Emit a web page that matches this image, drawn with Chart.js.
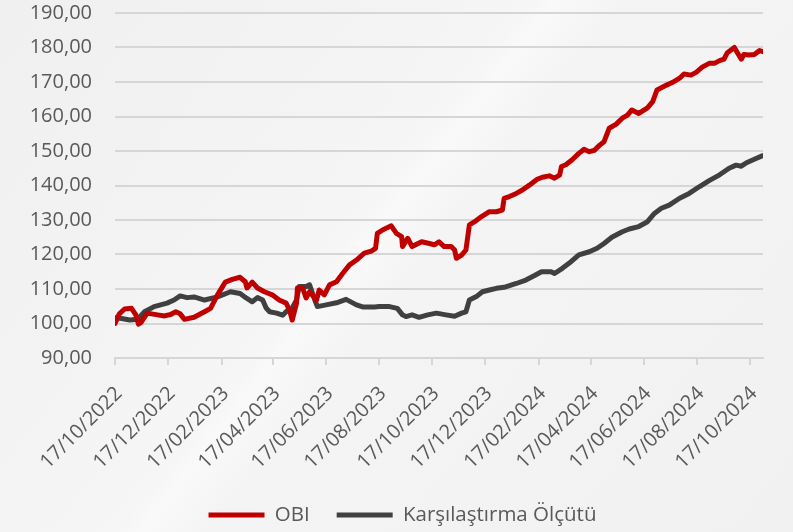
<!DOCTYPE html>
<html>
<head>
<meta charset="utf-8">
<script src="https://cdn.jsdelivr.net/npm/chart.js@4/dist/chart.umd.min.js"></script>
<style>
  html, body { margin: 0; padding: 0; }
  body {
    width: 793px; height: 532px; overflow: hidden; position: relative;
    background: linear-gradient(128deg, #f0f0f1 0%, #f3f3f4 30%, #f6f6f7 44%, #f9f9fa 46%, #f4f4f5 52%, #f1f1f2 100%);
  }
  canvas { display: block; }
</style>
</head>
<body>
<canvas id="c" width="793" height="532"></canvas>
<script>
const tickLabels = ['17/10/2022','17/12/2022','17/02/2023','17/04/2023','17/06/2023','17/08/2023','17/10/2023','17/12/2023','17/02/2024','17/04/2024','17/06/2024','17/08/2024','17/10/2024'];
const axisEnd = '01/11/2024';
const seriesNames = ['OBI', 'Kar\u015f\u0131la\u015ft\u0131rma \u00d6l\u00e7\u00fct\u00fc'];

const obiDates = ['17/10/2022','22/10/2022','28/10/2022','05/11/2022','10/11/2022','13/11/2022','16/11/2022','23/11/2022','05/12/2022','13/12/2022','20/12/2022','26/12/2022','31/12/2022','05/01/2023','16/01/2023','28/01/2023','04/02/2023','12/02/2023','21/02/2023','01/03/2023','10/03/2023','16/03/2023','18/03/2023','24/03/2023','30/03/2023','07/04/2023','16/04/2023','24/04/2023','02/05/2023','06/05/2023','09/05/2023','14/05/2023','15/05/2023','21/05/2023','25/05/2023','29/05/2023','06/06/2023','09/06/2023','15/06/2023','21/06/2023','29/06/2023','06/07/2023','14/07/2023','22/07/2023','31/07/2023','08/08/2023','13/08/2023','15/08/2023','21/08/2023','31/08/2023','06/09/2023','12/09/2023','13/09/2023','19/09/2023','24/09/2023','05/10/2023','14/10/2023','20/10/2023','25/10/2023','31/10/2023','08/11/2023','12/11/2023','14/11/2023','20/11/2023','25/11/2023','29/11/2023','05/12/2023','13/12/2023','22/12/2023','30/12/2023','06/01/2024','08/01/2024','14/01/2024','22/01/2024','29/01/2024','06/02/2024','15/02/2024','21/02/2024','29/02/2024','06/03/2024','12/03/2024','14/03/2024','19/03/2024','26/03/2024','03/04/2024','09/04/2024','15/04/2024','21/04/2024','27/04/2024','02/05/2024','08/05/2024','16/05/2024','23/05/2024','29/05/2024','03/06/2024','11/06/2024','21/06/2024','27/06/2024','02/07/2024','13/07/2024','20/07/2024','28/07/2024','02/08/2024','10/08/2024','16/08/2024','23/08/2024','31/08/2024','06/09/2024','12/09/2024','17/09/2024','21/09/2024','29/09/2024','02/10/2024','07/10/2024','10/10/2024','16/10/2024','22/10/2024','28/10/2024','01/11/2024'];
const obiValues = [100.0,102.8,104.2,104.4,102.5,99.8,100.3,103.0,102.5,102.2,102.6,103.4,102.8,101.2,101.8,103.4,104.4,108.3,112.0,112.8,113.4,112.1,110.3,112.0,110.3,109.2,108.3,106.8,105.9,103.9,101.0,105.9,110.3,110.3,107.4,109.2,106.8,109.7,108.3,111.2,112.1,114.5,117.0,118.4,120.4,121.0,121.8,126.1,127.1,128.3,126.1,125.2,122.3,124.7,122.3,123.7,123.2,122.8,123.7,122.3,122.3,121.3,118.9,119.8,121.3,128.6,129.5,131.0,132.4,132.4,132.9,136.3,136.8,137.7,138.7,140.1,141.8,142.4,142.8,142.1,143.1,145.5,146.0,147.4,149.3,150.5,149.8,150.2,151.7,152.7,156.6,157.8,159.5,160.4,161.9,160.9,162.5,164.3,167.7,169.1,169.9,171.1,172.3,172.0,172.8,174.3,175.4,175.4,176.2,176.6,178.5,180.0,178.7,176.6,178.0,177.8,178.0,179.1,178.8];

const benchDates = ['17/10/2022','19/10/2022','23/10/2022','03/11/2022','12/11/2022','20/11/2022','01/12/2022','16/12/2022','24/12/2022','31/12/2022','08/01/2023','16/01/2023','28/01/2023','12/02/2023','27/02/2023','10/03/2023','17/03/2023','24/03/2023','30/03/2023','05/04/2023','09/04/2023','13/04/2023','21/04/2023','28/04/2023','04/05/2023','09/05/2023','14/05/2023','17/05/2023','25/05/2023','29/05/2023','04/06/2023','07/06/2023','17/06/2023','29/06/2023','10/07/2023','22/07/2023','29/07/2023','12/08/2023','17/08/2023','29/08/2023','07/09/2023','13/09/2023','17/09/2023','24/09/2023','02/10/2023','12/10/2023','22/10/2023','02/11/2023','12/11/2023','20/11/2023','25/11/2023','29/11/2023','07/12/2023','14/12/2023','22/12/2023','30/12/2023','08/01/2024','22/01/2024','02/02/2024','12/02/2024','20/02/2024','02/03/2024','06/03/2024','15/03/2024','25/03/2024','03/04/2024','15/04/2024','24/04/2024','02/05/2024','11/05/2024','23/05/2024','31/05/2024','11/06/2024','21/06/2024','29/06/2024','07/07/2024','16/07/2024','28/07/2024','08/08/2024','20/08/2024','31/08/2024','12/09/2024','23/09/2024','01/10/2024','07/10/2024','13/10/2024','22/10/2024','31/10/2024'];
const benchValues = [100.5,101.8,101.5,101.0,101.2,103.4,104.9,105.9,106.8,108.0,107.5,107.7,106.8,107.7,109.2,108.7,107.4,106.3,107.5,106.8,104.5,103.4,103.0,102.4,103.9,104.5,106.8,110.7,110.7,111.2,106.8,104.9,105.4,106.0,107.0,105.4,104.8,104.8,104.9,104.9,104.4,102.5,102.0,102.5,101.8,102.5,103.0,102.5,102.1,103.0,103.4,106.8,107.8,109.2,109.7,110.2,110.5,111.6,112.6,113.9,115.0,115.0,114.5,116.0,117.9,119.9,120.8,121.8,123.2,125.0,126.6,127.4,128.1,129.5,131.9,133.4,134.3,136.3,137.7,139.7,141.4,143.1,145.0,145.9,145.6,146.6,147.6,148.6];

const originDay = Date.UTC(2022, 9, 17);
function toDay(s) {
  const p = s.split('/').map(Number);
  return Math.round((Date.UTC(p[2], p[1] - 1, p[0]) - originDay) / 86400000);
}
function pts(dates, vals) { return dates.map((d, i) => ({ x: toDay(d), y: vals[i] })); }
const tickDays = tickLabels.map(toDay);

const txt = '#595959';
const gridCol = '#d6d6d6';
const fontFam = "'Open Sans', sans-serif";
const legendFont = 20.5;
const legendPad = 27;

const legendPlace = {
  id: 'legendPlace',
  afterLayout(chart) {
    const lg = chart.legend;
    if (!lg) return;
    const dx = 21;
    lg.left += dx; lg.right += dx;
    const wantTop = 515 - legendPad - legendFont / 2;
    const dy = wantTop - lg.top;
    lg.top += dy; lg.bottom += dy;
  }
};

new Chart(document.getElementById('c'), {
  type: 'line',
  plugins: [legendPlace],
  data: {
    datasets: [
      { label: seriesNames[0], data: pts(obiDates, obiValues), borderColor: '#c00000', backgroundColor: '#c00000', borderWidth: 5, pointRadius: 0, borderCapStyle: 'round', borderJoinStyle: 'round', tension: 0 },
      { label: seriesNames[1], data: pts(benchDates, benchValues), borderColor: '#404040', backgroundColor: '#404040', borderWidth: 5, pointRadius: 0, borderCapStyle: 'round', borderJoinStyle: 'round', tension: 0 }
    ]
  },
  options: {
    responsive: false,
    animation: false,
    devicePixelRatio: 1,
    layout: { padding: { top: 13, right: 30, left: 0, bottom: 0 } },
    plugins: {
      tooltip: { enabled: false },
      legend: {
        position: 'bottom',
        labels: {
          usePointStyle: true, pointStyle: 'line', pointStyleWidth: 56,
          color: txt, font: { family: fontFam, size: legendFont }, padding: legendPad
        }
      }
    },
    scales: {
      x: {
        type: 'linear', min: 0, max: toDay(axisEnd),
        afterBuildTicks: s => { s.ticks = tickDays.map(v => ({ value: v })); },
        afterFit: s => {
          const lh = (s.chart.legend && s.chart.legend.height) || 40;
          s.height = 532 - 358 - lh;
        },
        grid: { drawOnChartArea: false, drawTicks: true, tickLength: 7, color: gridCol, lineWidth: 2 },
        border: { color: gridCol, width: 2 },
        ticks: {
          autoSkip: false, maxRotation: 45, minRotation: 45, padding: 17, labelOffset: 4,
          color: txt, font: { family: fontFam, size: 20 },
          callback: v => { const i = tickDays.indexOf(v); return i >= 0 ? tickLabels[i] : ''; }
        }
      },
      y: {
        min: 90, max: 190,
        afterFit: s => { s.width = 115; s.paddingTop = 0; s.paddingBottom = 0; },
        grid: { drawTicks: false, color: gridCol, lineWidth: 2 },
        border: { display: false },
        ticks: {
          stepSize: 10, padding: 23, color: txt, font: { family: fontFam, size: 20 },
          callback: v => v.toFixed(2).replace('.', ',')
        }
      }
    }
  }
});
</script>
</body>
</html>
